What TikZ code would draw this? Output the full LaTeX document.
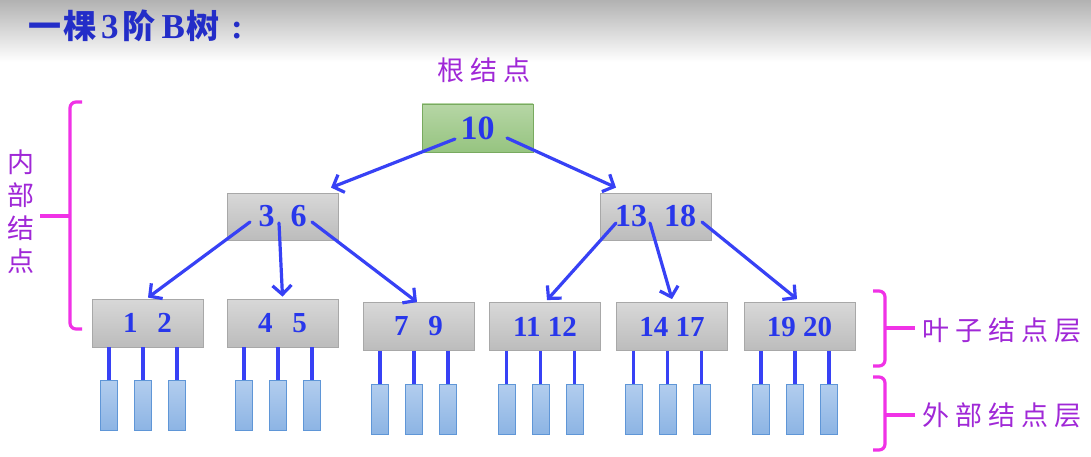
\documentclass[tikz,border=0pt]{standalone}
\usepackage{fontspec}
\setmainfont{Liberation Serif}
\newfontfamily\cjk{Noto Sans CJK SC}
\usetikzlibrary{arrows.meta,calc}
\definecolor{tblue}{RGB}{40,55,235}
\definecolor{titleblue}{RGB}{35,45,200}
\definecolor{ablue}{RGB}{55,65,245}
\definecolor{lpurple}{RGB}{160,40,215}
\definecolor{brmag}{RGB}{240,50,230}
\definecolor{gborder}{RGB}{168,168,168}
\definecolor{gtop}{RGB}{216,216,216}
\definecolor{gbot}{RGB}{188,188,188}
\definecolor{rborder}{RGB}{120,170,95}
\definecolor{rtop}{RGB}{182,214,165}
\definecolor{rbot}{RGB}{150,196,128}
\definecolor{eborder}{RGB}{95,150,215}
\definecolor{etop}{RGB}{178,205,238}
\definecolor{ebot}{RGB}{140,180,228}
\definecolor{bggray}{RGB}{178,178,178}
\begin{document}
\begin{tikzpicture}[x=1pt,y=-1pt,
  keybox/.style={draw=gborder, line width=0.8pt, top color=gtop, bottom color=gbot,
    minimum width=111pt, minimum height=47pt, inner sep=0pt, text=tblue,
    font=\bfseries\fontsize{32}{32}\selectfont},
  rootbox/.style={keybox, draw=rborder, top color=rtop, bottom color=rbot,
    minimum height=48pt, font=\bfseries\fontsize{34}{34}\selectfont},
  leafbox/.style={keybox, minimum height=48pt, font=\bfseries\fontsize{29}{29}\selectfont},
  extbox/.style={draw=eborder, line width=0.8pt, top color=etop, bottom color=ebot,
    minimum width=17pt, minimum height=50pt, inner sep=0pt},
  arr/.style={draw=ablue, line width=3.2pt, line cap=round,
    -{Straight Barb[length=9pt,width=19pt,line width=3.2pt]}},
  stem/.style={draw=ablue, line width=3.6pt},
  brace/.style={draw=brmag, line width=3.2pt, rounded corners=6pt},
  lab/.style={text=lpurple, font=\cjk\fontsize{27}{33}\selectfont, inner sep=0pt, align=center}]

\useasboundingbox (0,0) rectangle (1091,457);
\fill[white] (0,0) rectangle (1091,457);
\shade[top color=bggray, bottom color=white] (0,0) rectangle (1091,62);

% title
\node[anchor=west, text=titleblue, inner sep=0pt] (title) at (28,26)
  {{\cjk\bfseries\fontsize{33}{33}\selectfont 一\hspace{2pt}棵}\hspace{5pt}{\bfseries\fontsize{35}{35}\selectfont 3}\hspace{4pt}{\cjk\bfseries\fontsize{33}{33}\selectfont 阶}\hspace{6pt}{\bfseries\fontsize{35}{35}\selectfont B}\hspace{1pt}{\cjk\bfseries\fontsize{33}{33}\selectfont 树}\hspace{12pt}{\bfseries\fontsize{35}{35}\selectfont :}};

% nodes
\node[rootbox] (root) at (477.5,128) {10};
\node[keybox] (n36) at (282.5,216.5) {3\hspace{16pt}6};
\node[keybox] (n1318) at (655.5,216.5) {13\hspace{17pt}18};
\node[leafbox] (l12) at (147.5,323) {1\hspace{20pt}2};
\node[leafbox] (l45) at (282.5,323) {4\hspace{20pt}5};
\node[leafbox] (l79) at (418.5,326.5) {7\hspace{20pt}9};
\node[leafbox] (l1112) at (545,326.5) {11 12};
\node[leafbox] (l1417) at (672,326.5) {14 17};
\node[leafbox] (l1920) at (799.5,326.5) {19 20};

% external nodes
\foreach \n in {l12,l45,l79,l1112,l1417,l1920}{
  \foreach \d [count=\i] in {-38.5,-4.5,29.5}{
    \node[extbox, anchor=north] (\n ext\i) at ($(\n.south)+(\d,33)$) {};
    \draw[stem] (\n ext\i.north |- \n.south) -- (\n ext\i.north);
  }
}

% arrows
\draw[arr] ($(root)+(-22.5,11)$) -- ($(n36.north)+(48.5,-5)$);
\draw[arr] ($(root)+(29.5,10)$) -- ($(n1318.north)+(-39.5,-5)$);
\draw[arr] ($(n36)+(-32.5,5.5)$) -- ($(l12.north)+(0.5,-1)$);
\draw[arr] ($(n36)+(-3.5,6.5)$) -- ($(l45.north)+(0,-2)$);
\draw[arr] ($(n36)+(29.5,5.5)$) -- ($(l79.north)+(-1.5,0)$);
\draw[arr] ($(n1318)+(-39.5,6.5)$) -- ($(l1112.north)+(2,-2)$);
\draw[arr] ($(n1318)+(-5.5,6.5)$) -- ($(l1417.north)+(0,-3)$);
\draw[arr] ($(n1318)+(46.5,5.5)$) -- ($(l1920.north)+(-2.5,-3)$);

% labels
\node[lab] (rootlab) at (484,70) {根\hspace{6pt}结\hspace{6pt}点};
\node[lab] (innerlab) at (21.5,212) {内\\部\\结\\点};
\node[lab, anchor=west] (leaflab) at (922,330) {叶\hspace{6pt}子\hspace{6pt}结\hspace{6pt}点\hspace{6pt}层};
\node[lab, anchor=west] (extlab) at (922,415) {外\hspace{6pt}部\hspace{6pt}结\hspace{6pt}点\hspace{6pt}层};

% braces
\coordinate (lbt) at (82,102);
\coordinate (lbb) at (82,329);
\draw[brace] (lbt) -- (70,102) -- (70,329) -- (lbb);
\coordinate (lbm) at (70,216);
\draw[brace] (lbm) -- (40,216);

\coordinate (rbt) at (873,291);
\coordinate (rbb) at (873,366);
\draw[brace] (rbt) -- (885,291) -- (885,366) -- (rbb);
\coordinate (rbm) at (885,328);
\draw[brace] (rbm) -- ($(leaflab.west)+(-7,-2)$);

\coordinate (ebt) at (873,377);
\coordinate (ebb) at (873,450);
\draw[brace] (ebt) -- (885,377) -- (885,450) -- (ebb);
\coordinate (ebm) at (885,415);
\draw[brace] (ebm) -- ($(extlab.west)+(-7,0)$);
\end{tikzpicture}
\end{document}
